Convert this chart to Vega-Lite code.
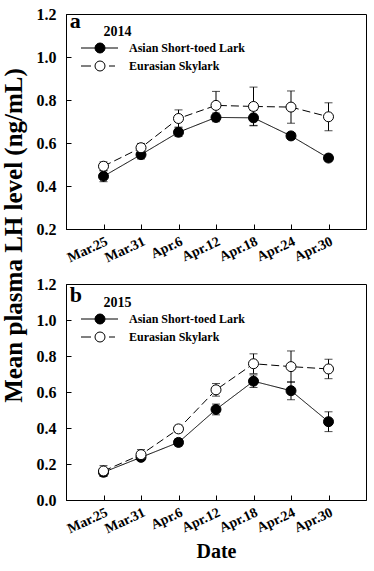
{
  "$schema": "https://vega.github.io/schema/vega-lite/v6.json",
  "padding": {"left": 0, "top": 5, "right": 5, "bottom": 5},
  "background": "white",
  "config": {
    "font": "Liberation Serif",
    "view": {"stroke": "black", "strokeWidth": 1},
    "axis": {
      "labelFont": "Liberation Serif", "labelFontWeight": "bold", "labelColor": "black", "labelFontSize": 16,
      "domainColor": "black", "tickColor": "black", "grid": false, "tickSize": -5, "labelPadding": 15,
      "titleFont": "Liberation Serif", "titleFontWeight": "bold", "titleColor": "black", "titleFontSize": 25,
      "labelOverlap": false, "labelFlush": false
    },
    "axisX": {"labelPadding": 10, "labelFontSize": 14, "labelAngle": -25},
    "legend": {
      "labelFont": "Liberation Serif", "labelFontWeight": "bold", "labelColor": "black", "labelFontSize": 12
    }
  },
  "datasets": {
    "y2014": [
      {"species": "Asian Short-toed Lark", "day": 0, "mean": 0.445, "se": 0.025},
      {"species": "Asian Short-toed Lark", "day": 6, "mean": 0.546, "se": 0.02},
      {"species": "Asian Short-toed Lark", "day": 12, "mean": 0.65, "se": 0.02},
      {"species": "Asian Short-toed Lark", "day": 18, "mean": 0.719, "se": 0.02},
      {"species": "Asian Short-toed Lark", "day": 24, "mean": 0.717, "se": 0.035},
      {"species": "Asian Short-toed Lark", "day": 30, "mean": 0.633, "se": 0.015},
      {"species": "Asian Short-toed Lark", "day": 36, "mean": 0.53, "se": 0.015},
      {"species": "Eurasian Skylark", "day": 0, "mean": 0.492, "se": 0.02},
      {"species": "Eurasian Skylark", "day": 6, "mean": 0.578, "se": 0.02},
      {"species": "Eurasian Skylark", "day": 12, "mean": 0.714, "se": 0.04},
      {"species": "Eurasian Skylark", "day": 18, "mean": 0.775, "se": 0.065},
      {"species": "Eurasian Skylark", "day": 24, "mean": 0.77, "se": 0.09},
      {"species": "Eurasian Skylark", "day": 30, "mean": 0.767, "se": 0.075},
      {"species": "Eurasian Skylark", "day": 36, "mean": 0.722, "se": 0.065}
    ],
    "y2015": [
      {"species": "Asian Short-toed Lark", "day": 0, "mean": 0.154, "se": 0.02},
      {"species": "Asian Short-toed Lark", "day": 6, "mean": 0.237, "se": 0.015},
      {"species": "Asian Short-toed Lark", "day": 12, "mean": 0.32, "se": 0.02},
      {"species": "Asian Short-toed Lark", "day": 18, "mean": 0.503, "se": 0.03},
      {"species": "Asian Short-toed Lark", "day": 24, "mean": 0.66, "se": 0.035},
      {"species": "Asian Short-toed Lark", "day": 30, "mean": 0.607, "se": 0.05},
      {"species": "Asian Short-toed Lark", "day": 36, "mean": 0.435, "se": 0.055},
      {"species": "Eurasian Skylark", "day": 0, "mean": 0.161, "se": 0.03},
      {"species": "Eurasian Skylark", "day": 6, "mean": 0.252, "se": 0.028},
      {"species": "Eurasian Skylark", "day": 12, "mean": 0.395, "se": 0.02},
      {"species": "Eurasian Skylark", "day": 18, "mean": 0.612, "se": 0.035},
      {"species": "Eurasian Skylark", "day": 24, "mean": 0.757, "se": 0.055},
      {"species": "Eurasian Skylark", "day": 30, "mean": 0.741, "se": 0.087},
      {"species": "Eurasian Skylark", "day": 36, "mean": 0.728, "se": 0.054}
    ]
  },
  "spacing": 55,
  "bounds": "flush",
  "resolve": {"scale": {"fill": "independent", "strokeDash": "independent"}, "legend": {"fill": "independent", "strokeDash": "independent"}},
  "vconcat": [
    {
      "width": 300, "height": 215,
      "layer": [
        {"data": {"name": "y2014"},
          "mark": {"type": "errorbar", "color": "black", "thickness": 1, "ticks": {"size": 8, "color": "black"}},
          "encoding": {
            "x": {"field": "day", "type": "quantitative", "scale": {"domain": [-6, 42], "nice": false, "zero": false},
              "axis": {"values": [0, 6, 12, 18, 24, 30, 36], "title": null,
                "labelExpr": "['Mar.25','Mar.31','Apr.6','Apr.12','Apr.18','Apr.24','Apr.30'][datum.value / 6]"}},
            "y": {"field": "mean", "type": "quantitative", "scale": {"domain": [0.2, 1.2], "nice": false, "zero": false},
              "axis": {"values": [0.2, 0.4, 0.6, 0.8, 1.0, 1.2], "tickCount": 6, "format": ".1f", "labelOverlap": false, "title": "Mean plasma LH level  (ng/mL)", "titleY": 221, "titlePadding": 10}},
            "yError": {"field": "se"}}},
        {"data": {"name": "y2014"},
          "mark": {"type": "line", "color": "black", "strokeWidth": 1},
          "encoding": {
            "x": {"field": "day", "type": "quantitative"},
            "y": {"field": "mean", "type": "quantitative"},
            "strokeDash": {"field": "species", "type": "nominal", "scale": {"domain": ["Eurasian Skylark", "Asian Short-toed Lark"], "range": [[8, 4], [1, 0]]}, "legend": null}}},
        {"data": {"name": "y2014"},
          "mark": {"type": "point", "shape": "circle", "filled": true, "size": 100, "stroke": "black", "strokeWidth": 1, "opacity": 1},
          "encoding": {
            "x": {"field": "day", "type": "quantitative"},
            "y": {"field": "mean", "type": "quantitative"},
            "fill": {"field": "species", "type": "nominal", "scale": {"domain": ["Asian Short-toed Lark", "Eurasian Skylark"], "range": ["black", "white"]},
            "legend": {"title": null, "orient": "none", "legendX": 28, "legendY": 28, "labelOffset": 23, "rowPadding": 4, "symbolSize": 100, "symbolStrokeColor": "black", "symbolStrokeWidth": 1, "symbolOpacity": 1,
              "encode": {"symbols": {"update": {"shape": {"signal": "datum.value === 'Asian Short-toed Lark' ? 'M -3.8 0 L -1 0 M 1 0 L 3.6 0 M 1 0 A 1 1 0 1 1 -1 0 A 1 1 0 1 1 1 0 Z' : 'M -3.8 0 L -1.8 0 M 1.8 0 L 3 0 M 1 0 A 1 1 0 1 1 -1 0 A 1 1 0 1 1 1 0 Z'"}}}}}}}},
        {"data": {"values": [{"panel": "a", "year": "2014"}]},
          "mark": {"type": "text", "font": "Liberation Serif", "fontWeight": "bold", "fontSize": 22, "align": "left", "baseline": "alphabetic", "color": "black"},
          "encoding": {"x": {"datum": -5.4}, "y": {"datum": 1.134}, "text": {"field": "panel"}}},
        {"data": {"values": [{"panel": "a", "year": "2014"}]},
          "mark": {"type": "text", "font": "Liberation Serif", "fontWeight": "bold", "fontSize": 14, "align": "left", "baseline": "middle", "color": "black"},
          "encoding": {"x": {"datum": 0}, "y": {"datum": 1.115}, "text": {"field": "year"}}}
      ]
    },
    {
      "width": 300, "height": 216,
      "layer": [
        {"data": {"name": "y2015"},
          "mark": {"type": "errorbar", "color": "black", "thickness": 1, "ticks": {"size": 8, "color": "black"}},
          "encoding": {
            "x": {"field": "day", "type": "quantitative", "scale": {"domain": [-6, 42], "nice": false, "zero": false},
              "axis": {"values": [0, 6, 12, 18, 24, 30, 36], "title": "Date", "titlePadding": 6, "titleFontSize": 20,
                "labelExpr": "['Mar.25','Mar.31','Apr.6','Apr.12','Apr.18','Apr.24','Apr.30'][datum.value / 6]"}},
            "y": {"field": "mean", "type": "quantitative", "scale": {"domain": [0, 1.2], "nice": false, "zero": false},
              "axis": {"values": [0, 0.2, 0.4, 0.6, 0.8, 1.0, 1.2], "tickCount": 7, "format": ".1f", "labelOverlap": false, "title": null}},
            "yError": {"field": "se"}}},
        {"data": {"name": "y2015"},
          "mark": {"type": "line", "color": "black", "strokeWidth": 1},
          "encoding": {
            "x": {"field": "day", "type": "quantitative"},
            "y": {"field": "mean", "type": "quantitative", "axis": {"values": [0, 0.2, 0.4, 0.6, 0.8, 1.0, 1.2], "tickCount": 7, "format": ".1f", "labelOverlap": false, "title": null}},
            "strokeDash": {"field": "species", "type": "nominal", "scale": {"domain": ["Eurasian Skylark", "Asian Short-toed Lark"], "range": [[8, 4], [1, 0]]}, "legend": null}}},
        {"data": {"name": "y2015"},
          "mark": {"type": "point", "shape": "circle", "filled": true, "size": 100, "stroke": "black", "strokeWidth": 1, "opacity": 1},
          "encoding": {
            "x": {"field": "day", "type": "quantitative"},
            "y": {"field": "mean", "type": "quantitative", "axis": {"values": [0, 0.2, 0.4, 0.6, 0.8, 1.0, 1.2], "tickCount": 7, "format": ".1f", "labelOverlap": false, "title": null}},
            "fill": {"field": "species", "type": "nominal", "scale": {"domain": ["Asian Short-toed Lark", "Eurasian Skylark"], "range": ["black", "white"]},
            "legend": {"title": null, "orient": "none", "legendX": 28, "legendY": 29, "labelOffset": 23, "rowPadding": 4, "symbolSize": 100, "symbolStrokeColor": "black", "symbolStrokeWidth": 1, "symbolOpacity": 1,
              "encode": {"symbols": {"update": {"shape": {"signal": "datum.value === 'Asian Short-toed Lark' ? 'M -3.8 0 L -1 0 M 1 0 L 3.6 0 M 1 0 A 1 1 0 1 1 -1 0 A 1 1 0 1 1 1 0 Z' : 'M -3.8 0 L -1.8 0 M 1.8 0 L 3 0 M 1 0 A 1 1 0 1 1 -1 0 A 1 1 0 1 1 1 0 Z'"}}}}}}}},
        {"data": {"values": [{"panel": "b", "year": "2015"}]},
          "mark": {"type": "text", "font": "Liberation Serif", "fontWeight": "bold", "fontSize": 22, "align": "left", "baseline": "alphabetic", "color": "black"},
          "encoding": {"x": {"datum": -5.4}, "y": {"datum": 1.1}, "text": {"field": "panel"}}},
        {"data": {"values": [{"panel": "b", "year": "2015"}]},
          "mark": {"type": "text", "font": "Liberation Serif", "fontWeight": "bold", "fontSize": 14, "align": "left", "baseline": "middle", "color": "black"},
          "encoding": {"x": {"datum": 0}, "y": {"datum": 1.096}, "text": {"field": "year"}}}
      ]
    }
  ]
}
